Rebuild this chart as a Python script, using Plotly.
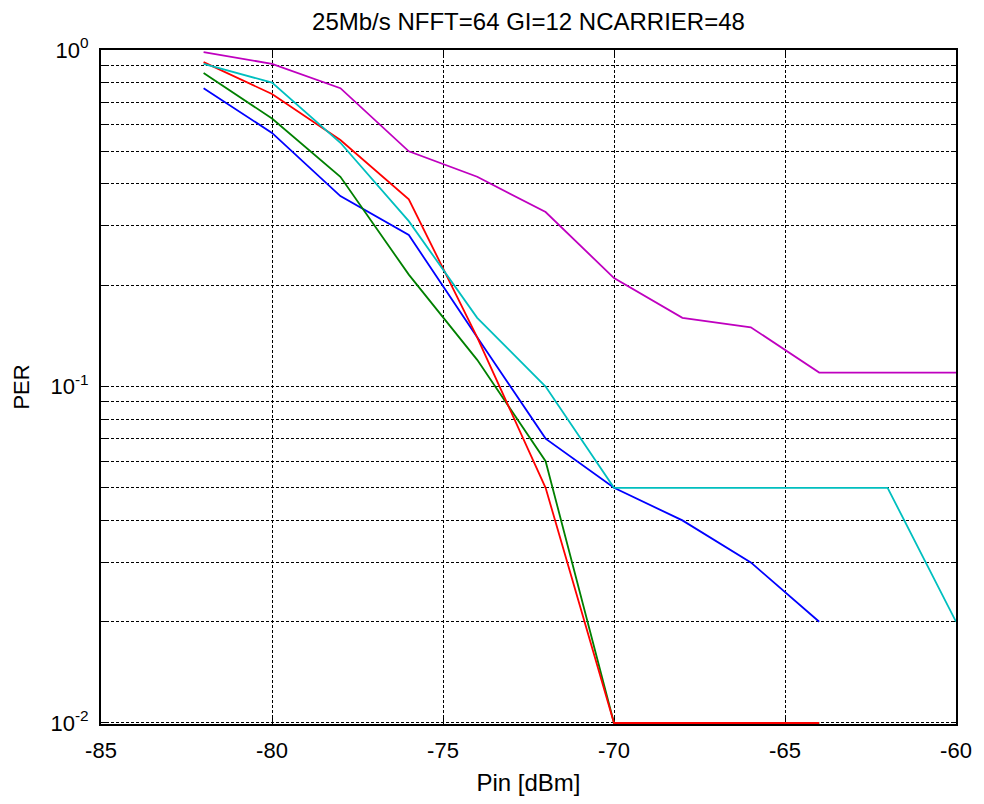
import plotly.graph_objects as go

pin = [-82, -80, -78, -76, -74, -72, -70, -68, -66, -64, -62, -60]

per_blue = [0.77, 0.567, 0.368, 0.282, 0.14, 0.07, 0.05, 0.04, 0.03, 0.02]
per_green = [0.854, 0.626, 0.42, 0.215, 0.12, 0.06, 0.01, 0.01, 0.01, 0.01]
per_red = [0.92, 0.74, 0.54, 0.36, 0.14, 0.05, 0.01, 0.01, 0.01, 0.01]
per_cyan = [0.91, 0.80, 0.53, 0.31, 0.16, 0.10, 0.05, 0.05, 0.05, 0.05, 0.05, 0.02]
per_magenta = [0.985, 0.91, 0.77, 0.50, 0.42, 0.33, 0.21, 0.16, 0.15, 0.11, 0.11, 0.11]

series = [
    (per_blue, "#0000ff"),
    (per_green, "#008000"),
    (per_red, "#ff0000"),
    (per_cyan, "#00bfbf"),
    (per_magenta, "#bf00bf"),
]

x_ticks = [-85, -80, -75, -70, -65, -60]
y_tickvals = [m * 10 ** e for e in (-2, -1) for m in range(1, 10)] + [1]
y_ticktext = []
for v in y_tickvals:
    if abs(v - 0.01) < 1e-9:
        y_ticktext.append("10<sup>-2</sup>")
    elif abs(v - 0.1) < 1e-9:
        y_ticktext.append("10<sup>-1</sup>")
    elif abs(v - 1) < 1e-9:
        y_ticktext.append("10<sup>0</sup>")
    else:
        y_ticktext.append("")

fig = go.Figure()
for ys, col in series:
    fig.add_trace(go.Scatter(x=pin[:len(ys)], y=ys, mode="lines",
                             line=dict(color=col, width=1.8), showlegend=False))

W, H = 976, 796
fig.update_layout(
    width=W, height=H,
    margin=dict(l=92, r=17, t=42, b=73),
    paper_bgcolor="white", plot_bgcolor="white",
    font=dict(family="Liberation Sans, Arial", size=22, color="black"),
    title=dict(text="25Mb/s NFFT=64 GI=12 NCARRIER=48", x=0.5, xref="paper",
               xanchor="center", yref="container", y=1 - 14 / H,
               yanchor="middle", font=dict(size=24)),
)
fig.update_xaxes(
    range=[-85, -60], tickvals=x_ticks, ticktext=[str(t) for t in x_ticks],
    showgrid=True, gridcolor="black", gridwidth=1.3, griddash="3px,2px",
    showline=True, linecolor="black", linewidth=2, mirror="allticks",
    ticks="inside", ticklen=6, tickwidth=1, tickcolor="black",
    ticklabelstandoff=6, zeroline=False, layer="below traces",
    title=dict(text="Pin [dBm]", standoff=12, font=dict(size=24)),
)
fig.update_yaxes(
    type="log", range=[-2.003, 0], tickvals=y_tickvals, ticktext=y_ticktext,
    showgrid=True, gridcolor="black", gridwidth=1.3, griddash="3px,2px",
    showline=True, linecolor="black", linewidth=2, mirror="allticks",
    ticks="inside", ticklen=5, tickwidth=1, tickcolor="black",
    ticklabelstandoff=6, zeroline=False, layer="below traces",
    title=dict(text="PER", standoff=15, font=dict(size=22)),
)

fig.write_html("out.html")
